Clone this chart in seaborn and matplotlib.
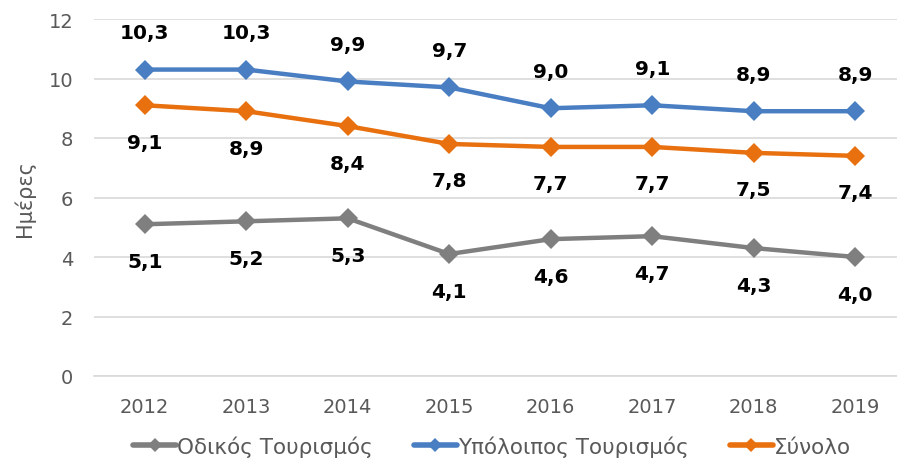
import matplotlib
matplotlib.use("Agg")
import matplotlib.pyplot as plt
import seaborn as sns
import pandas as pd
import numpy as np
from matplotlib.lines import Line2D

years = ["2012", "2013", "2014", "2015", "2016", "2017", "2018", "2019"]
odikos = [5.1, 5.2, 5.3, 4.1, 4.6, 4.7, 4.3, 4.0]
ypoloipos = [10.3, 10.3, 9.9, 9.7, 9.0, 9.1, 8.9, 8.9]
synolo = [9.1, 8.9, 8.4, 7.8, 7.7, 7.7, 7.5, 7.4]
series_names = ["Οδικός Τουρισμός", "Υπόλοιπος Τουρισμός", "Σύνολο"]
colors = ["#7F7F7F", "#4A7EC2", "#E8700F"]

sns.set_theme(style="white")
plt.rcParams['font.family'] = ['DejaVu Sans']

rows = []
for name, vals in zip(series_names, [odikos, ypoloipos, synolo]):
    for i, v in enumerate(vals):
        rows.append({"x": i, "year": years[i], "value": v, "series": name})
df = pd.DataFrame(rows)

fig = plt.figure(figsize=(8.97, 4.64), dpi=100)
ax = fig.add_axes([94 / 897, 1 - 377 / 464, 812 / 897, 357 / 464])

sns.lineplot(data=df, x="x", y="value", hue="series", hue_order=series_names,
             palette=colors, marker="D", markersize=10, linewidth=3.2,
             markeredgewidth=0, ax=ax, legend=False)

ax.set_xlim(-0.5, len(years) - 0.5)
ax.set_ylim(0, 12)
ax.set_yticks(np.arange(0, 13, 2))
ax.set_xticks(range(len(years)))
ax.set_xticklabels(years)
ax.tick_params(axis='both', labelsize=14, colors="#595959", length=0)
ax.tick_params(axis='y', pad=15)
ax.tick_params(axis='x', pad=15)
ax.yaxis.grid(True, color="#D9D9D9", linewidth=1.2)
ax.xaxis.grid(False)
for s in ["top", "right", "left"]:
    ax.spines[s].set_visible(False)
ax.spines["bottom"].set_color("#D9D9D9")
ax.spines["bottom"].set_linewidth(1.2)
ax.set_xlabel("")
ax.set_ylabel("Ημέρες", fontsize=15, color="#595959", labelpad=10)

def fmt(v):
    return f"{v:.1f}".replace(".", ",")

offsets = {"Οδικός Τουρισμός": -37, "Υπόλοιπος Τουρισμός": 37, "Σύνολο": -37}
for name, vals in zip(series_names, [odikos, ypoloipos, synolo]):
    for i, v in enumerate(vals):
        ax.annotate(fmt(v), (i, v), xytext=(0, offsets[name]), textcoords="offset pixels",
                    ha="center", va="center", fontsize=14.5, fontweight="bold", color="black")

handles = [Line2D([0], [0], color=c, linewidth=4, marker="D", markersize=7, markeredgewidth=0)
           for c in colors]
fig.legend(handles, series_names, loc="center", bbox_to_anchor=(492 / 897, 1 - 447 / 464),
           ncol=3, frameon=False, fontsize=15.5, labelcolor="#595959",
           handlelength=2.0, handletextpad=0.05, columnspacing=1.9,
           borderpad=0.2)

fig.savefig("out.png", dpi=100)
